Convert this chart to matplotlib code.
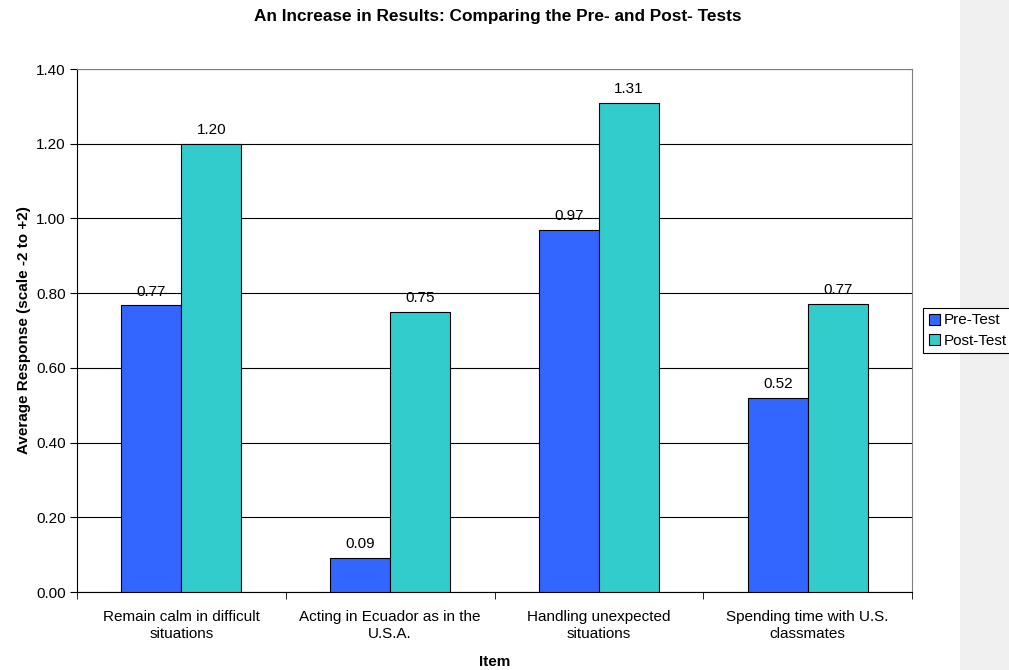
import matplotlib
matplotlib.use("Agg")
import matplotlib.pyplot as plt
from matplotlib.patches import Rectangle
import numpy as np

plt.rcParams['font.family'] = ['Liberation Sans', 'DejaVu Sans']

categories = ["Remain calm in difficult\nsituations", "Acting in Ecuador as in the\nU.S.A.",
              "Handling unexpected\nsituations", "Spending time with U.S.\nclassmates"]
pre_test = [0.767, 0.09, 0.97, 0.52]
post_test = [1.20, 0.75, 1.31, 0.77]
series_names = ["Pre-Test", "Post-Test"]
yticks = [0.00, 0.20, 0.40, 0.60, 0.80, 1.00, 1.20, 1.40]

FS = 11

fig = plt.figure(figsize=(10.09, 6.70), dpi=100)
fig.patch.set_facecolor('white')
fig.add_artist(Rectangle((0.9514, 0), 0.0486, 1, transform=fig.transFigure,
                         facecolor='#F0F0F0', edgecolor='none', zorder=0))

ax = fig.add_axes([0.0763, 0.1164, 0.9039 - 0.0763, 0.8970 - 0.1164])
x = np.arange(len(categories))
w = 0.287
b1 = ax.bar(x - w/2, pre_test, w, color='#3366FF', edgecolor='black', linewidth=0.8,
            label=series_names[0], zorder=3)
b2 = ax.bar(x + w/2, post_test, w, color='#33CCCC', edgecolor='black', linewidth=0.8,
            label=series_names[1], zorder=3)

for bars, vals in ((b1, pre_test), (b2, post_test)):
    for r, v in zip(bars, vals):
        ax.annotate(f"{v:.2f}", (r.get_x() + r.get_width()/2, v), xytext=(0, 5),
                    textcoords='offset points', ha='center', va='bottom', fontsize=FS,
                    zorder=5)

ax.set_xlim(-0.5, len(categories) - 0.5)
ax.set_ylim(0, 1.40)
ax.set_yticks(yticks)
ax.set_yticklabels([f"{t:.2f}" for t in yticks], fontsize=FS)
ax.yaxis.grid(True, color='black', linewidth=0.8, zorder=0)
ax.set_axisbelow(True)

ax.set_xticks(x)
ax.set_xticklabels(categories, fontsize=FS, linespacing=1.3)
ax.tick_params(axis='x', length=0, pad=13)
ax.set_xticks(np.arange(len(categories) + 1) - 0.5, minor=True)
ax.tick_params(axis='x', which='minor', length=5, direction='out', color='black')
ax.tick_params(axis='y', length=5, direction='out', color='black', pad=3)

for s in ['top', 'right']:
    ax.spines[s].set_color('#808080')
ax.spines['left'].set_color('black')
ax.spines['bottom'].set_color('black')

ax.set_xlabel("Item", fontsize=FS, fontweight='bold', labelpad=10)
ax.set_ylabel("Average Response (scale -2 to +2)", fontsize=FS, fontweight='bold', labelpad=4)
fig.text(0.4935, 0.975, "An Increase in Results: Comparing the Pre- and Post- Tests",
         ha='center', va='center', fontsize=12.4, fontweight='bold')

leg = ax.legend(loc='center left', bbox_to_anchor=(1.0135, 0.5), fontsize=FS, frameon=True,
                fancybox=False, edgecolor='black', framealpha=1, handlelength=0.75,
                handleheight=0.75, handletextpad=0.25, borderpad=0.35, labelspacing=0.4,
                borderaxespad=0)
leg.get_frame().set_linewidth(0.8)

fig.savefig("out.png", dpi=100)
